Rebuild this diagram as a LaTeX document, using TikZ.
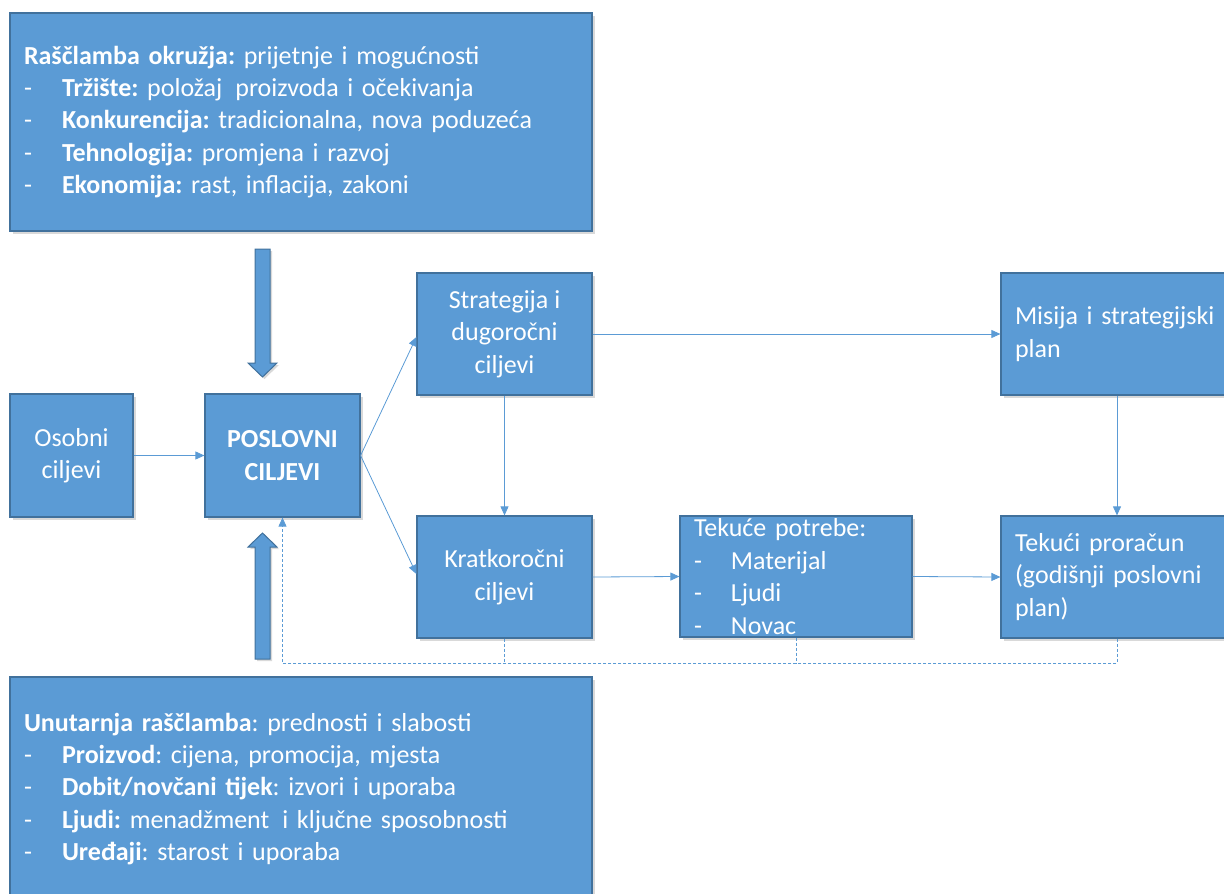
\documentclass[tikz,border=0pt]{standalone}
\usepackage{fontspec}
\setmainfont{Carlito}
\usetikzlibrary{arrows.meta,shadows,calc}
\definecolor{boxfill}{HTML}{5B9BD5}
\definecolor{boxline}{HTML}{41719C}
\frenchspacing
\begin{document}
\frenchspacing
\begin{tikzpicture}[x=1pt,y=-1pt,
  box/.style={draw=boxline, fill=boxfill, line width=1.2pt, text=white,
    drop shadow={shadow xshift=2.5pt, shadow yshift=-2.5pt, opacity=0.3},
    inner sep=0pt, font=\fontsize{26}{32.4}\selectfont\frenchspacing},
  conn/.style={draw=boxfill, line width=0.8pt, -{Triangle[length=9pt,width=8pt]}},
  dashline/.style={draw=boxfill, line width=0.8pt, dash pattern=on 3pt off 2pt},
  fatarrow/.style={draw=boxline, fill=boxfill, line width=1pt,
    drop shadow={shadow xshift=2pt, shadow yshift=-2pt, opacity=0.3}}]
\useasboundingbox (0,0) rectangle (1224,894);
\newcommand{\itm}[1]{\makebox[38pt][l]{-}#1}
\node[box, minimum width=582pt, minimum height=218pt, text width=554pt, align=left] (env) at (301,122)
 {\textbf{Raščlamba okružja:} prijetnje i mogućnosti\\
  \itm{\textbf{Tržište:} položaj\, proizvoda i očekivanja}\\
  \itm{\textbf{Konkurencija:} tradicionalna, nova poduzeća}\\
  \itm{\textbf{Tehnologija:} promjena i razvoj}\\
  \itm{\textbf{Ekonomija:} rast, inflacija, zakoni}};
\node[box, minimum width=582pt, minimum height=224pt, text width=554pt, align=left] (int) at (301,789)
 {\textbf{Unutarnja raščlamba}: prednosti i slabosti\\
  \itm{\textbf{Proizvod}: cijena, promocija, mjesta}\\
  \itm{\textbf{Dobit/novčani tijek}: izvori i uporaba}\\
  \itm{\textbf{Ljudi:} menadžment\, i ključne sposobnosti}\\
  \itm{\textbf{Uređaji}: starost i uporaba}};
\node[box, minimum width=123pt, minimum height=123pt, align=center] (oso) at (71.5,455.5) {Osobni\\ciljevi};
\node[box, minimum width=155pt, minimum height=123pt, align=center] (pos) at (282.5,455.5) {\textbf{POSLOVNI}\\\textbf{CILJEVI}};
\node[box, minimum width=175pt, minimum height=122pt, align=center] (str) at (504.5,334) {Strategija i\\dugoročni\\ciljevi};
\node[box, minimum width=175pt, minimum height=122pt, align=center] (kra) at (504.5,577) {Kratkoročni\\ciljevi};
\node[box, minimum width=232pt, minimum height=121pt, text width=204pt, align=left] (tek) at (796,576.5)
 {Tekuće potrebe:\\\makebox[37pt][l]{-}Materijal\\\makebox[37pt][l]{-}Ljudi\\\makebox[37pt][l]{-}Novac};
\node[box, minimum width=232pt, minimum height=122pt, text width=204pt, align=left] (mis) at (1117,334)
 {Misija i strategijski\\plan};
\node[box, minimum width=232pt, minimum height=122pt, text width=204pt, align=left] (pro) at (1117,577)
 {Tekući proračun\\(godišnji poslovni\\plan)};
% fat arrows
\draw[fatarrow] (255,249) -- (270,249) -- (270,363) -- (277,363) -- (262.5,377) -- (248,363) -- (255,363) -- cycle;
\draw[fatarrow] (255,659) -- (270,659) -- (270,547) -- (277,547) -- (262.5,533) -- (248,547) -- (255,547) -- cycle;
% connectors
\draw[conn] (oso.east) -- (pos.west);
\draw[conn] (pos.east) -- ($(str.west)+(0,3)$);
\draw[conn] (pos.east) -- ($(kra.west)+(0,-3)$);
\draw[conn] (str.east) -- (mis.west);
\draw[conn] (str.south) -- (kra.north);
\draw[conn] (mis.south) -- (pro.north);
\draw[conn] (kra.east) -- (tek.west);
\draw[conn] (tek.east) -- (pro.west);
% feedback
\coordinate (fb) at (1117,663);
\draw[dashline, -{Triangle[length=9pt,width=8pt]}] (pro.south) -- (pro.south |- fb) -| (pos.south);
\draw[dashline] (kra.south) -- (kra.south |- fb);
\draw[dashline] (tek.south) -- (tek.south |- fb);
\end{tikzpicture}
\end{document}
